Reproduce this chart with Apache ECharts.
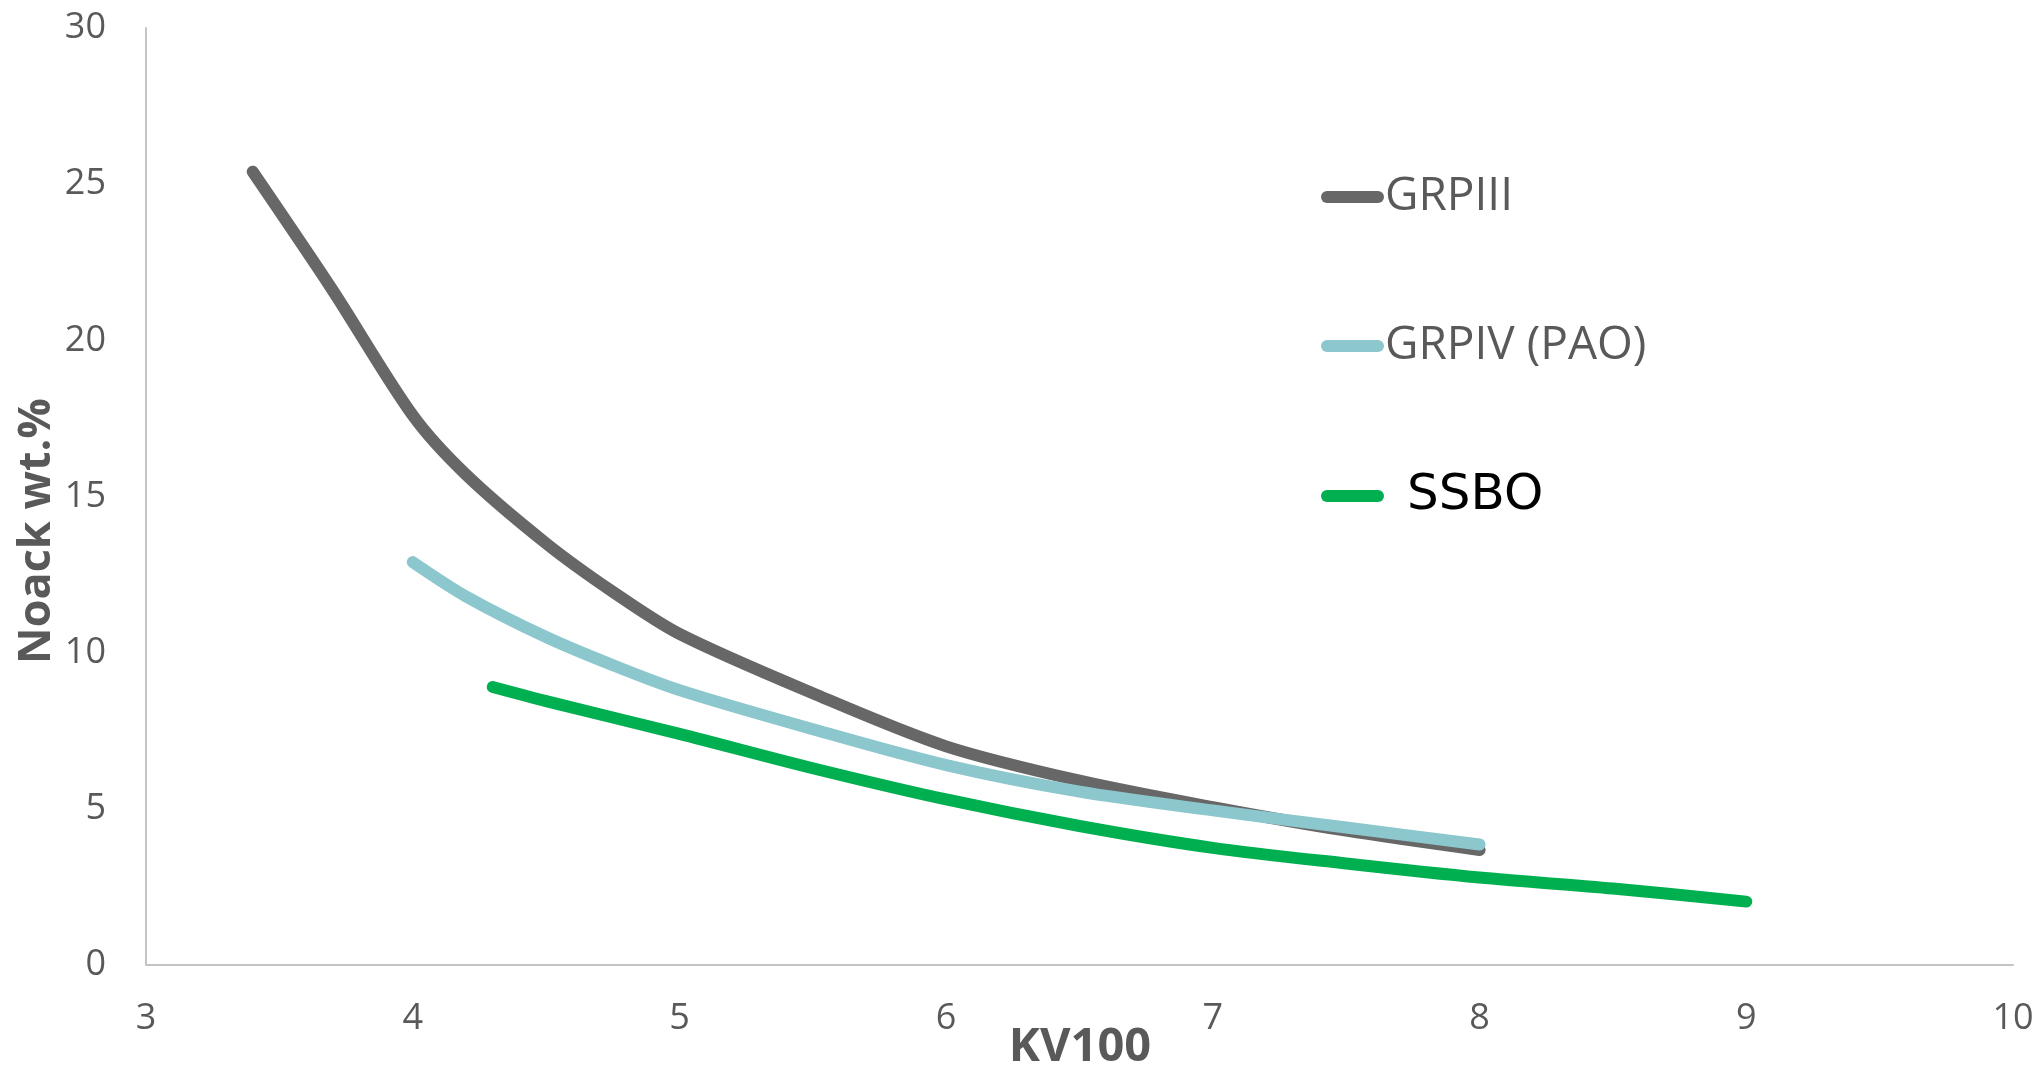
<!DOCTYPE html>
<html>
<head>
<meta charset="utf-8">
<script src="https://cdn.jsdelivr.net/npm/echarts@6/dist/echarts.min.js"></script>
<style>
html,body{margin:0;padding:0;background:#fff;}
#chart{width:2041px;height:1071px;}
</style>
</head>
<body>
<div id="chart"></div>
<script>
// ---- data ----
const seriesNames = ['GRPIII', 'GRPIV (PAO)', 'SSBO'];
const grp3X = [3.4, 3.7, 4.0, 4.2, 4.5, 4.75, 5, 5.5, 6, 6.5, 7, 7.5, 8];
const grp3Y = [25.4, 21.6, 17.6, 15.7, 13.5, 11.95, 10.6, 8.7, 7.0, 5.9, 5.05, 4.3, 3.68];
const grp4X = [4.0, 4.2, 4.5, 4.75, 5, 5.5, 6, 6.5, 7, 7.5, 8];
const grp4Y = [12.9, 11.8, 10.5, 9.6, 8.8, 7.55, 6.4, 5.55, 4.95, 4.4, 3.86];
const ssboX = [4.3, 4.5, 5, 5.5, 6, 6.5, 7, 7.5, 8, 8.5, 9];
const ssboY = [8.9, 8.45, 7.4, 6.3, 5.3, 4.45, 3.75, 3.25, 2.8, 2.45, 2.03];
const xTicks = [3, 4, 5, 6, 7, 8, 9, 10];
const yTicks = [0, 5, 10, 15, 20, 25, 30];
const xName = 'KV100';
const yName = 'Noack wt.%';

const pairs = (xs, ys) => xs.map((x, i) => [x, ys[i]]);
const colors = ['#676767', '#8CC7CE', '#00B050'];
const capsule = 'path://M6,0 L57,0 A6,6 0 0 1 57,12 L6,12 A6,6 0 0 1 6,0 Z';
const fontF = '"Open Sans", "Noto Sans", sans-serif';

const chart = echarts.init(document.getElementById('chart'), null, {renderer: 'canvas'});

function mkLegend(name, top, textStyle) {
  return {
    show: true, left: 1321, top: top, orient: 'vertical',
    itemWidth: 63, itemHeight: 12, icon: capsule, padding: 0,
    selectedMode: false,
    data: [{name: name, icon: capsule, textStyle: textStyle}],
    textStyle: textStyle
  };
}

const lineSeries = (i, xs, ys) => ({
  name: seriesNames[i], type: 'line', data: pairs(xs, ys),
  smooth: 0.3, showSymbol: false, symbol: 'none',
  color: colors[i], lineStyle: {color: colors[i], width: 12, cap: 'round', join: 'round'}, z: 2 + i
});

const option = {
  backgroundColor: '#ffffff',
  animation: false,
  grid: {left: 146, right: 28, top: 28, bottom: 106, containLabel: false},
  xAxis: {
    type: 'value', min: xTicks[0], max: xTicks[xTicks.length - 1], interval: 1,
    axisLine: {show: true, lineStyle: {color: '#C4C4C4', width: 2}},
    axisTick: {show: false},
    splitLine: {show: false},
    axisLabel: {color: '#595959', fontSize: 36, fontFamily: fontF, margin: 36,
      showMinLabel: true, showMaxLabel: true}
  },
  yAxis: {
    type: 'value', min: yTicks[0], max: yTicks[yTicks.length - 1], interval: 5,
    axisLine: {show: true, lineStyle: {color: '#C4C4C4', width: 2}},
    axisTick: {show: false},
    splitLine: {show: false},
    axisLabel: {color: '#595959', fontSize: 36, fontFamily: fontF, margin: 40,
      showMinLabel: true, showMaxLabel: true}
  },
  legend: [
    mkLegend(seriesNames[0], 197 - 23, {color: '#595959', fontSize: 46, lineHeight: 46, fontFamily: fontF, padding: [0, 0, 0, -4]}),
    mkLegend(seriesNames[1], 346 - 23, {color: '#595959', fontSize: 46, lineHeight: 46, fontFamily: fontF, padding: [0, 0, 0, -4]}),
    mkLegend(seriesNames[2], 496 - 25, {color: '#000000', fontSize: 50, lineHeight: 50, fontFamily: '"DejaVu Sans", Inter, sans-serif', padding: [0, 0, 0, 18]})
  ],
  graphic: [
    {type: 'text', x: 1080, y: 1048, style: {text: xName, font: 'bold 47px ' + fontF, fill: '#595959', textAlign: 'center', textVerticalAlign: 'middle'}},
    {type: 'text', x: 37, y: 531, rotation: Math.PI / 2, style: {text: yName, font: 'bold 45px ' + fontF, fill: '#595959', textAlign: 'center', textVerticalAlign: 'middle'}}
  ],
  series: [
    lineSeries(0, grp3X, grp3Y),
    lineSeries(1, grp4X, grp4Y),
    lineSeries(2, ssboX, ssboY)
  ]
};
chart.setOption(option);
</script>
</body>
</html>
